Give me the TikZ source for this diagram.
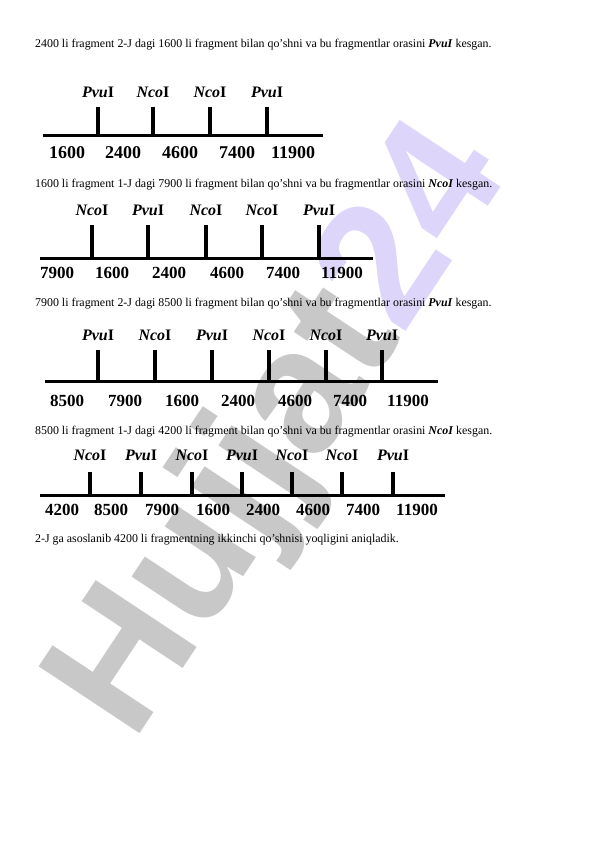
\documentclass[tikz,border=0pt]{standalone}
\usepackage{fontspec}
\setmainfont{Liberation Serif}
\newfontfamily\wmfont{Liberation Sans}
\definecolor{wmgray}{RGB}{200,200,200}
\definecolor{wmlav}{RGB}{221,214,250}
\newcommand{\Pv}{\textbf{\textit{Pvu}}\textbf{I}}
\newcommand{\Nc}{\textbf{\textit{Nco}}\textbf{I}}
\tikzset{
  para/.style={anchor=base west, inner sep=0pt, font=\fontsize{11.9}{13}\selectfont},
  lab/.style={inner sep=0pt, font=\fontsize{16}{16}\selectfont},
  num/.style={inner sep=0pt, font=\fontsize{17}{17}\selectfont\bfseries},
  bignum/.style={inner sep=0pt, font=\fontsize{18}{18}\selectfont\bfseries},
  axisline/.style={line width=3pt},
  tickline/.style={line width=3.2pt},
}
\begin{document}
\begin{tikzpicture}[x=1pt,y=-1pt]
\useasboundingbox (0,0) rectangle (596,842);
% watermark
\node[anchor=base west, inner sep=0pt, rotate=56.5, font=\wmfont\bfseries\fontsize{176}{176}\selectfont] (wm) at (133,744) {\color{wmgray}Hujjat\color{wmlav}24};
% texts
\node[para] (p1) at (35,48) {2400 li fragment 2-J dagi 1600 li fragment bilan qo’shni va bu fragmentlar orasini \textbf{\textit{PvuI}} kesgan.};
\node[para] (p2) at (35,188) {1600 li fragment 1-J dagi 7900 li fragment bilan qo’shni va bu fragmentlar orasini \textbf{\textit{NcoI}} kesgan.};
\node[para] (p3) at (35,306) {7900 li fragment 2-J dagi 8500 li fragment bilan qo’shni va bu fragmentlar orasini \textbf{\textit{PvuI}} kesgan.};
\node[para] (p4) at (35,434) {8500 li fragment 1-J dagi 4200 li fragment bilan qo’shni va bu fragmentlar orasini \textbf{\textit{NcoI}} kesgan.};
\node[para] (p5) at (35,542) {2-J ga asoslanib 4200 li fragmentning ikkinchi qo’shnisi yoqligini aniqladik.};
% diagram 1
\coordinate (d1s) at (43,136); \coordinate (d1e) at (323,136);
\draw[axisline] (d1s) -- (d1e);
\foreach \x/\l [count=\i] in {98/\Pv,153/\Nc,210/\Nc,267/\Pv}{
  \coordinate (d1a\i) at (\x,136); \coordinate (d1t\i) at (\x,107);
  \draw[tickline] (d1t\i) -- (d1a\i);
  \node[lab] (d1l\i) at (\x,92) {\l};
}
\foreach \x/\n [count=\i] in {67/1600,123/2400,180/4600,237/7400,293/11900}{
  \node[bignum] (d1n\i) at (\x,153) {\n};
}
% diagram 2
\coordinate (d2s) at (40,258); \coordinate (d2e) at (373,258);
\draw[axisline] (d2s) -- (d2e);
\foreach \x/\l [count=\i] in {92/\Nc,148/\Pv,206/\Nc,262/\Nc,319/\Pv}{
  \coordinate (d2a\i) at (\x,258); \coordinate (d2t\i) at (\x,225);
  \draw[tickline] (d2t\i) -- (d2a\i);
  \node[lab] (d2l\i) at (\x,210) {\l};
}
\foreach \x/\n [count=\i] in {57/7900,112/1600,169/2400,227/4600,283/7400,342/11900}{
  \node[num] (d2n\i) at (\x,273) {\n};
}
% diagram 3
\coordinate (d3s) at (45,381); \coordinate (d3e) at (438,381);
\draw[axisline] (d3s) -- (d3e);
\foreach \x/\l [count=\i] in {98/\Pv,155/\Nc,212/\Pv,269/\Nc,326/\Nc,382/\Pv}{
  \coordinate (d3a\i) at (\x,381); \coordinate (d3t\i) at (\x,350);
  \draw[tickline] (d3t\i) -- (d3a\i);
  \node[lab] (d3l\i) at (\x,335) {\l};
}
\foreach \x/\n [count=\i] in {67/8500,125/7900,182/1600,238/2400,295/4600,350/7400,408/11900}{
  \node[num] (d3n\i) at (\x,401) {\n};
}
% diagram 4
\coordinate (d4s) at (40,495); \coordinate (d4e) at (445,495);
\draw[axisline] (d4s) -- (d4e);
\foreach \x/\l [count=\i] in {90/\Nc,141/\Pv,192/\Nc,242/\Pv,292/\Nc,342/\Nc,393/\Pv}{
  \coordinate (d4a\i) at (\x,495); \coordinate (d4t\i) at (\x,472);
  \draw[tickline] (d4t\i) -- (d4a\i);
  \node[lab] (d4l\i) at (\x,455) {\l};
}
\foreach \x/\n [count=\i] in {62/4200,111/8500,162/7900,213/1600,263/2400,313/4600,363/7400,417/11900}{
  \node[num] (d4n\i) at (\x,510) {\n};
}
\end{tikzpicture}
\end{document}
